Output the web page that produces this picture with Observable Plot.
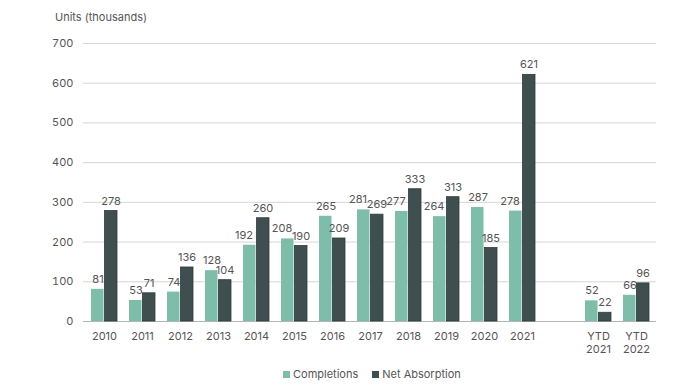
<!DOCTYPE html>
<html>
<head>
<meta charset="utf-8">
<script src="https://cdn.jsdelivr.net/npm/d3@7"></script>
<script src="https://cdn.jsdelivr.net/npm/@observablehq/plot@0.6"></script>
<style>
  body { margin: 0; background: #fff; font-family: Inter, "Open Sans", sans-serif; }
  #wrap { position: relative; width: 700px; height: 392px; }
  #title { position: absolute; left: 55px; top: 10px; font-size: 11px; color: #555; }
  #legend { position: absolute; left: 283px; top: 367px; font-size: 11px; color: #555; display: flex; gap: 14px; align-items: center; }
  #legend span.sw { display: inline-block; width: 7px; height: 7px; margin-right: 3px; vertical-align: middle; position: relative; top: -1px; }
  #chart { position: absolute; left: 0; top: 0; }
</style>
</head>
<body>
<div id="wrap">
  <div id="chart"></div>
  <div id="title">Units (thousands)</div>
  <div id="legend">
    <div><span class="sw" style="background:#7dbdaa"></span>Completions</div>
    <div><span class="sw" style="background:#3f4e4e"></span>Net Absorption</div>
  </div>
</div>
<script>
const categories = ["2010","2011","2012","2013","2014","2015","2016","2017","2018","2019","2020","2021","YTD 2021","YTD 2022"];
const completions = [81,53,74,128,192,208,265,281,277,264,287,278,52,66];
const netAbsorption = [278,71,136,104,260,190,209,269,333,313,185,621,22,96];
const yTicks = [0,100,200,300,400,500,600,700];

const domain = [...categories.slice(0, 12), "", ...categories.slice(12)];
const data = categories.map((c, i) => ({category: c, completions: completions[i], net: netAbsorption[i]}));

const colC = "#7dbdaa";
const colN = "#3f4e4e";
const half = 13.5;

// nudge a completions label left when it would collide with its neighbour
const cShift = d => (d.completions >= 100 && d.net > d.completions - 20) ? -12.5 : -6.5;

const chart = Plot.plot({
  width: 700,
  height: 357,
  marginTop: 43,
  marginBottom: 36,
  marginLeft: 83,
  marginRight: 44,
  style: {fontFamily: "Inter, 'Open Sans', sans-serif", fontSize: "11px", color: "#555", background: "#fff"},
  x: {domain, paddingInner: 0.32, paddingOuter: 0.16, label: null},
  y: {domain: [0, 700], label: null},
  marks: [
    Plot.gridY(yTicks, {stroke: "#d6d6d6", strokeOpacity: 1}),
    Plot.ruleY([0], {stroke: "#b5b5b5"}),
    Plot.axisY(yTicks, {tickSize: 0, tickPadding: 10, fill: "#555", label: null}),
    Plot.axisX({tickSize: 0, tickPadding: 9, fill: "#555", label: null, lineHeight: 1.2, tickFormat: d => d.replace(" ", "\n")}),
    Plot.barY(data, {x: "category", y: "completions", fill: colC, insetRight: half, insetLeft: 0}),
    Plot.barY(data, {x: "category", y: "net", fill: colN, stroke: "#2f3b3b", strokeWidth: 0.8, insetLeft: half, insetRight: 0}),
    ...data.map(d => Plot.text([d], {x: "category", y: "completions", text: v => String(v.completions), dx: cShift(d), dy: -10, fill: "#555", fontSize: 11})),
    Plot.text(data, {x: "category", y: "net", text: d => String(d.net), dx: 6.5, dy: -10, fill: "#555", fontSize: 11})
  ]
});
document.getElementById("chart").appendChild(chart);
</script>
</body>
</html>
